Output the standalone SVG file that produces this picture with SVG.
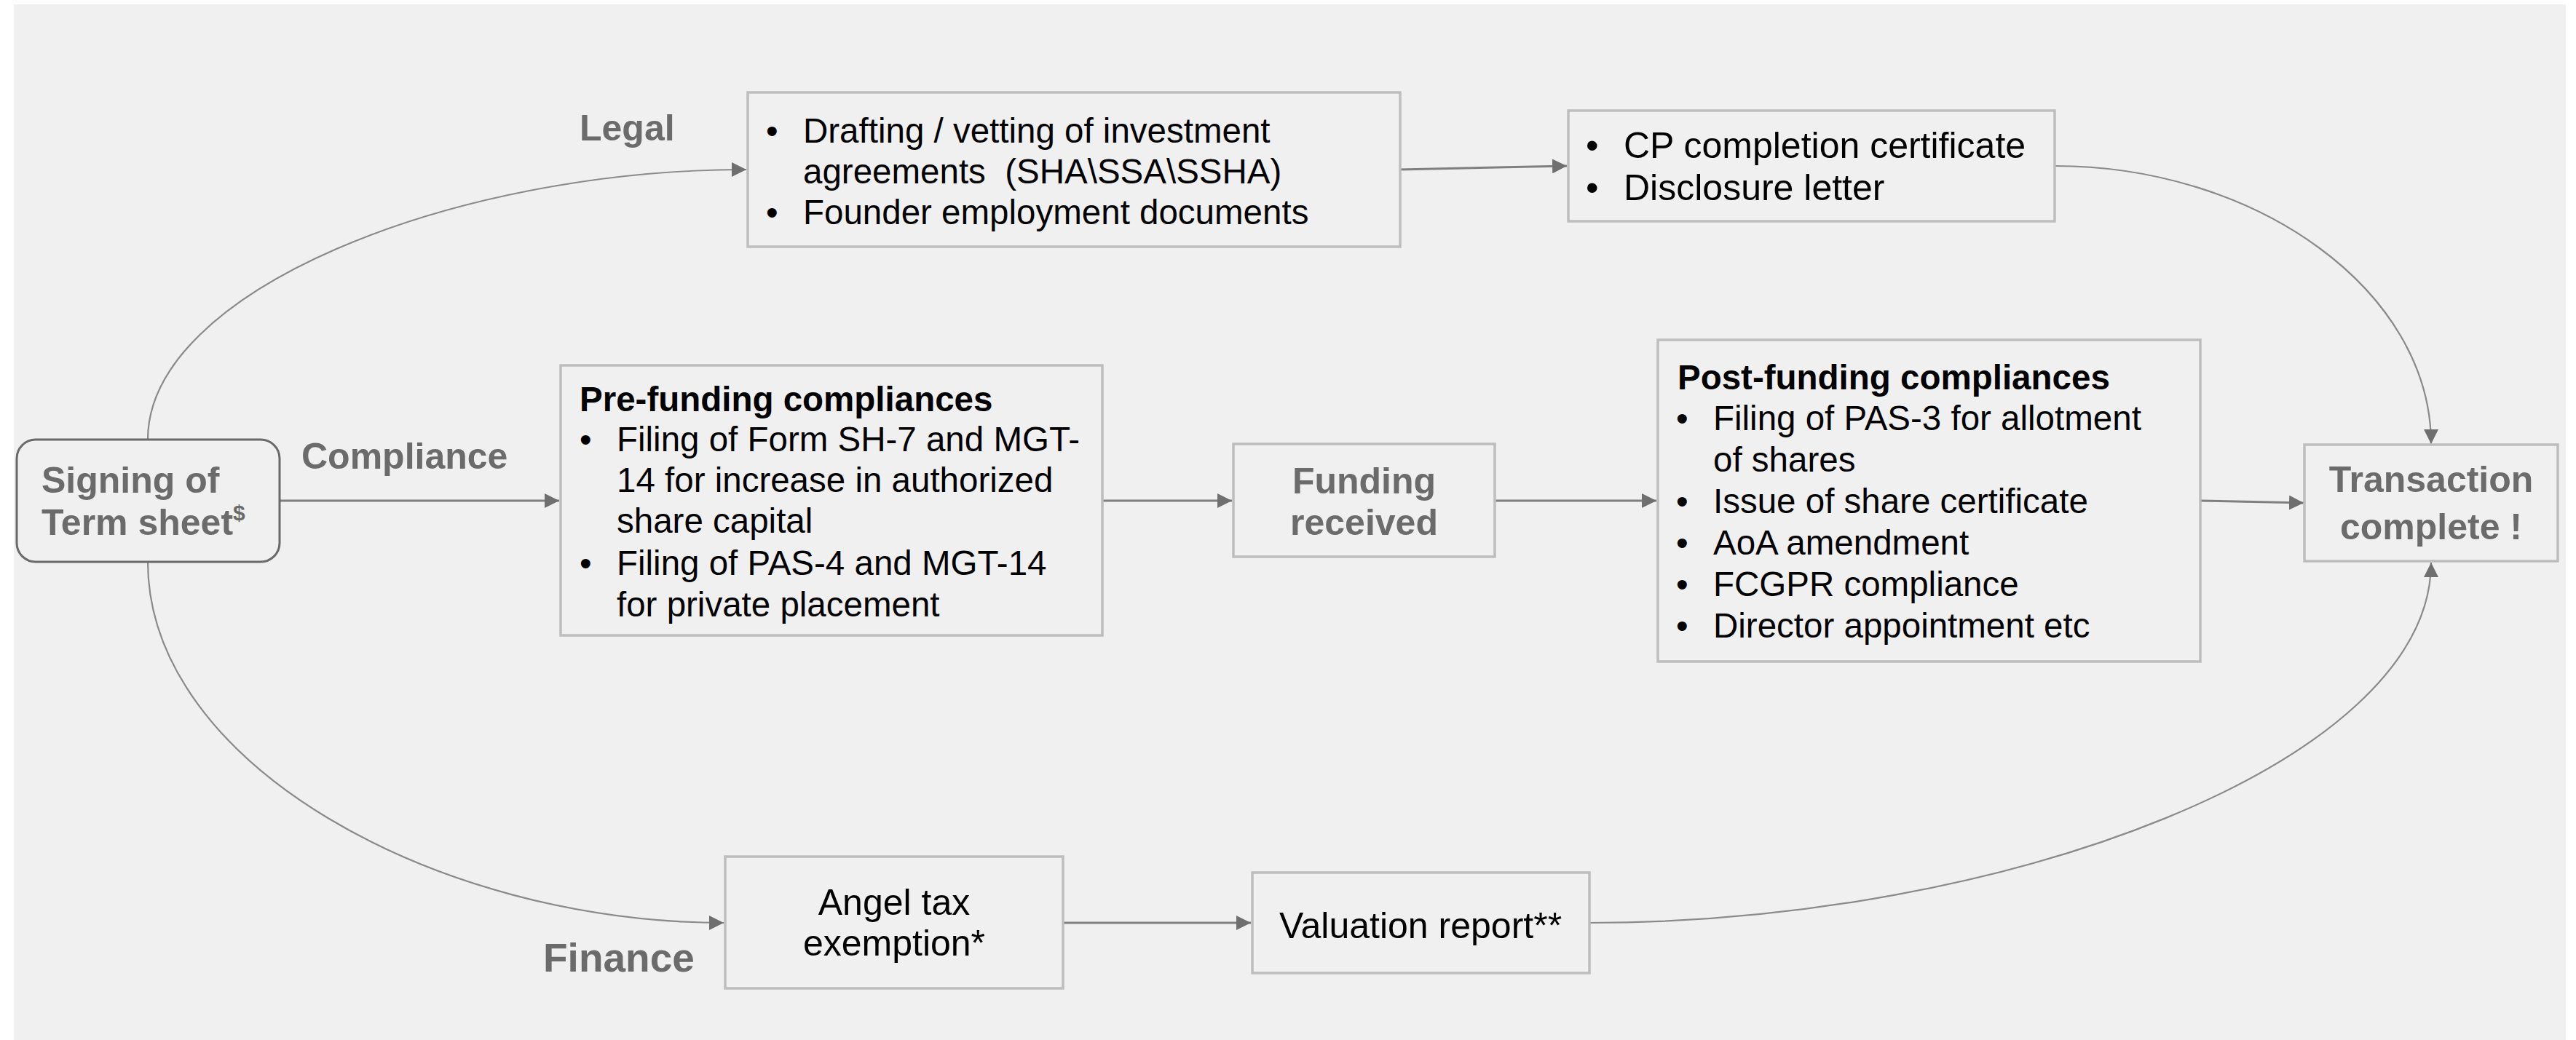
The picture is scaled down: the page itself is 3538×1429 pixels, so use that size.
<svg xmlns="http://www.w3.org/2000/svg" width="3538" height="1429" viewBox="0 0 3538 1429">
<defs>
<style>
.bg{fill:#f0f0f0}
.box{fill:#f0f0f0;stroke:#bdbdbd;stroke-width:3.5}
.rbox{fill:#f0f0f0;stroke:#6a6a6a;stroke-width:3}
.t{font-family:"Liberation Sans",Arial,sans-serif;fill:#000}
.body{font-size:47.5px}
.big{font-size:50px}
.hd{font-size:47.5px;font-weight:bold}
.g{font-family:"Liberation Sans",Arial,sans-serif;fill:#6b6b6b;font-weight:bold;font-size:50px}
.line{fill:none;stroke:#7f7f7f;stroke-width:3}
.curve{fill:none;stroke:#8a8a8a;stroke-width:2.2}
</style>
<marker id="ah" viewBox="0 0 20 20" refX="20" refY="10" markerWidth="20" markerHeight="20" markerUnits="userSpaceOnUse" orient="auto">
<path d="M0,0 L20,10 L0,20 z" fill="#6f6f6f"/>
</marker>
</defs>
<rect class="bg" x="19" y="6" width="3505" height="1423"/>

<g id="connectors">
<path class="curve" d="M203,604 C203,400 620,233 1025,233" marker-end="url(#ah)"/>
<path class="line" d="M384,688 L768,688" marker-end="url(#ah)"/>
<path class="curve" d="M203,772 C203,1050 600,1268 994,1268" marker-end="url(#ah)"/>
<path class="line" d="M1922,233 L2152,228" marker-end="url(#ah)"/>
<path class="curve" d="M2822,228 C3100,228 3339,400 3339,610" marker-end="url(#ah)"/>
<path class="line" d="M1514,688 L1692,688" marker-end="url(#ah)"/>
<path class="line" d="M2053,688 L2275,688" marker-end="url(#ah)"/>
<path class="line" d="M3022,688 L3164,691" marker-end="url(#ah)"/>
<path class="line" d="M1460,1268 L1718,1268" marker-end="url(#ah)"/>
<path class="curve" d="M2183,1268 C2750,1268 3339,1050 3339,773" marker-end="url(#ah)"/>
</g>

<g id="label-legal"><text class="g" x="796" y="193">Legal</text></g>
<g id="label-compliance"><text class="g" x="414" y="644">Compliance</text></g>
<g id="label-finance"><text class="g" x="746" y="1335" style="font-size:55px">Finance</text></g>

<g id="signing">
<rect class="rbox" x="23" y="604" width="361" height="168" rx="26" ry="26"/>
<text class="g" x="57" y="677">Signing of</text>
<text class="g" x="57" y="735">Term sheet<tspan dy="-20" style="font-size:30px">$</tspan></text>
</g>

<g id="legal-docs">
<rect class="box" x="1027" y="127" width="896" height="212"/>
<text class="t body" x="1052" y="196">•</text>
<text class="t body" x="1103" y="196">Drafting / vetting of investment</text>
<text class="t body" x="1103" y="252" style="white-space:pre">agreements  (SHA\SSA\SSHA)</text>
<text class="t body" x="1052" y="308">•</text>
<text class="t body" x="1103" y="308">Founder employment documents</text>
</g>

<g id="cp-certificate">
<rect class="box" x="2154" y="152" width="668" height="152"/>
<text class="t big" x="2178" y="217">•</text>
<text class="t big" x="2230" y="217">CP completion certificate</text>
<text class="t big" x="2178" y="275">•</text>
<text class="t big" x="2230" y="275">Disclosure letter</text>
</g>

<g id="pre-funding">
<rect class="box" x="770" y="502" width="744" height="371"/>
<text class="t hd" x="796" y="565">Pre-funding compliances</text>
<text class="t body" x="796" y="620">•</text>
<text class="t body" x="847" y="620">Filing of Form SH-7 and MGT-</text>
<text class="t body" x="847" y="676">14 for increase in authorized</text>
<text class="t body" x="847" y="732">share capital</text>
<text class="t body" x="796" y="790">•</text>
<text class="t body" x="847" y="790">Filing of PAS-4 and MGT-14</text>
<text class="t body" x="847" y="847">for private placement</text>
</g>

<g id="funding-received">
<rect class="box" x="1694" y="610" width="359" height="155"/>
<text class="g" x="1873.5" y="678" text-anchor="middle">Funding</text>
<text class="g" x="1873.5" y="735" text-anchor="middle">received</text>
</g>

<g id="post-funding">
<rect class="box" x="2277" y="467" width="745" height="442"/>
<text class="t hd" x="2304" y="535">Post-funding compliances</text>
<text class="t body" x="2302" y="591">•</text>
<text class="t body" x="2353" y="591">Filing of PAS-3 for allotment</text>
<text class="t body" x="2353" y="648">of shares</text>
<text class="t body" x="2302" y="705">•</text>
<text class="t body" x="2353" y="705">Issue of share certificate</text>
<text class="t body" x="2302" y="762">•</text>
<text class="t body" x="2353" y="762">AoA amendment</text>
<text class="t body" x="2302" y="819">•</text>
<text class="t body" x="2353" y="819">FCGPR compliance</text>
<text class="t body" x="2302" y="876">•</text>
<text class="t body" x="2353" y="876">Director appointment etc</text>
</g>

<g id="transaction-complete">
<rect class="box" x="3165" y="611" width="348" height="160"/>
<text class="g" x="3339" y="676" text-anchor="middle">Transaction</text>
<text class="g" x="3339" y="741" text-anchor="middle">complete !</text>
</g>

<g id="angel-tax">
<rect class="box" x="996" y="1177" width="464" height="181"/>
<text class="t big" x="1228" y="1257" text-anchor="middle">Angel tax</text>
<text class="t big" x="1228" y="1313" text-anchor="middle">exemption*</text>
</g>

<g id="valuation-report">
<rect class="box" x="1720" y="1199" width="463" height="138"/>
<text class="t big" x="1951" y="1289" text-anchor="middle">Valuation report**</text>
</g>
</svg>
